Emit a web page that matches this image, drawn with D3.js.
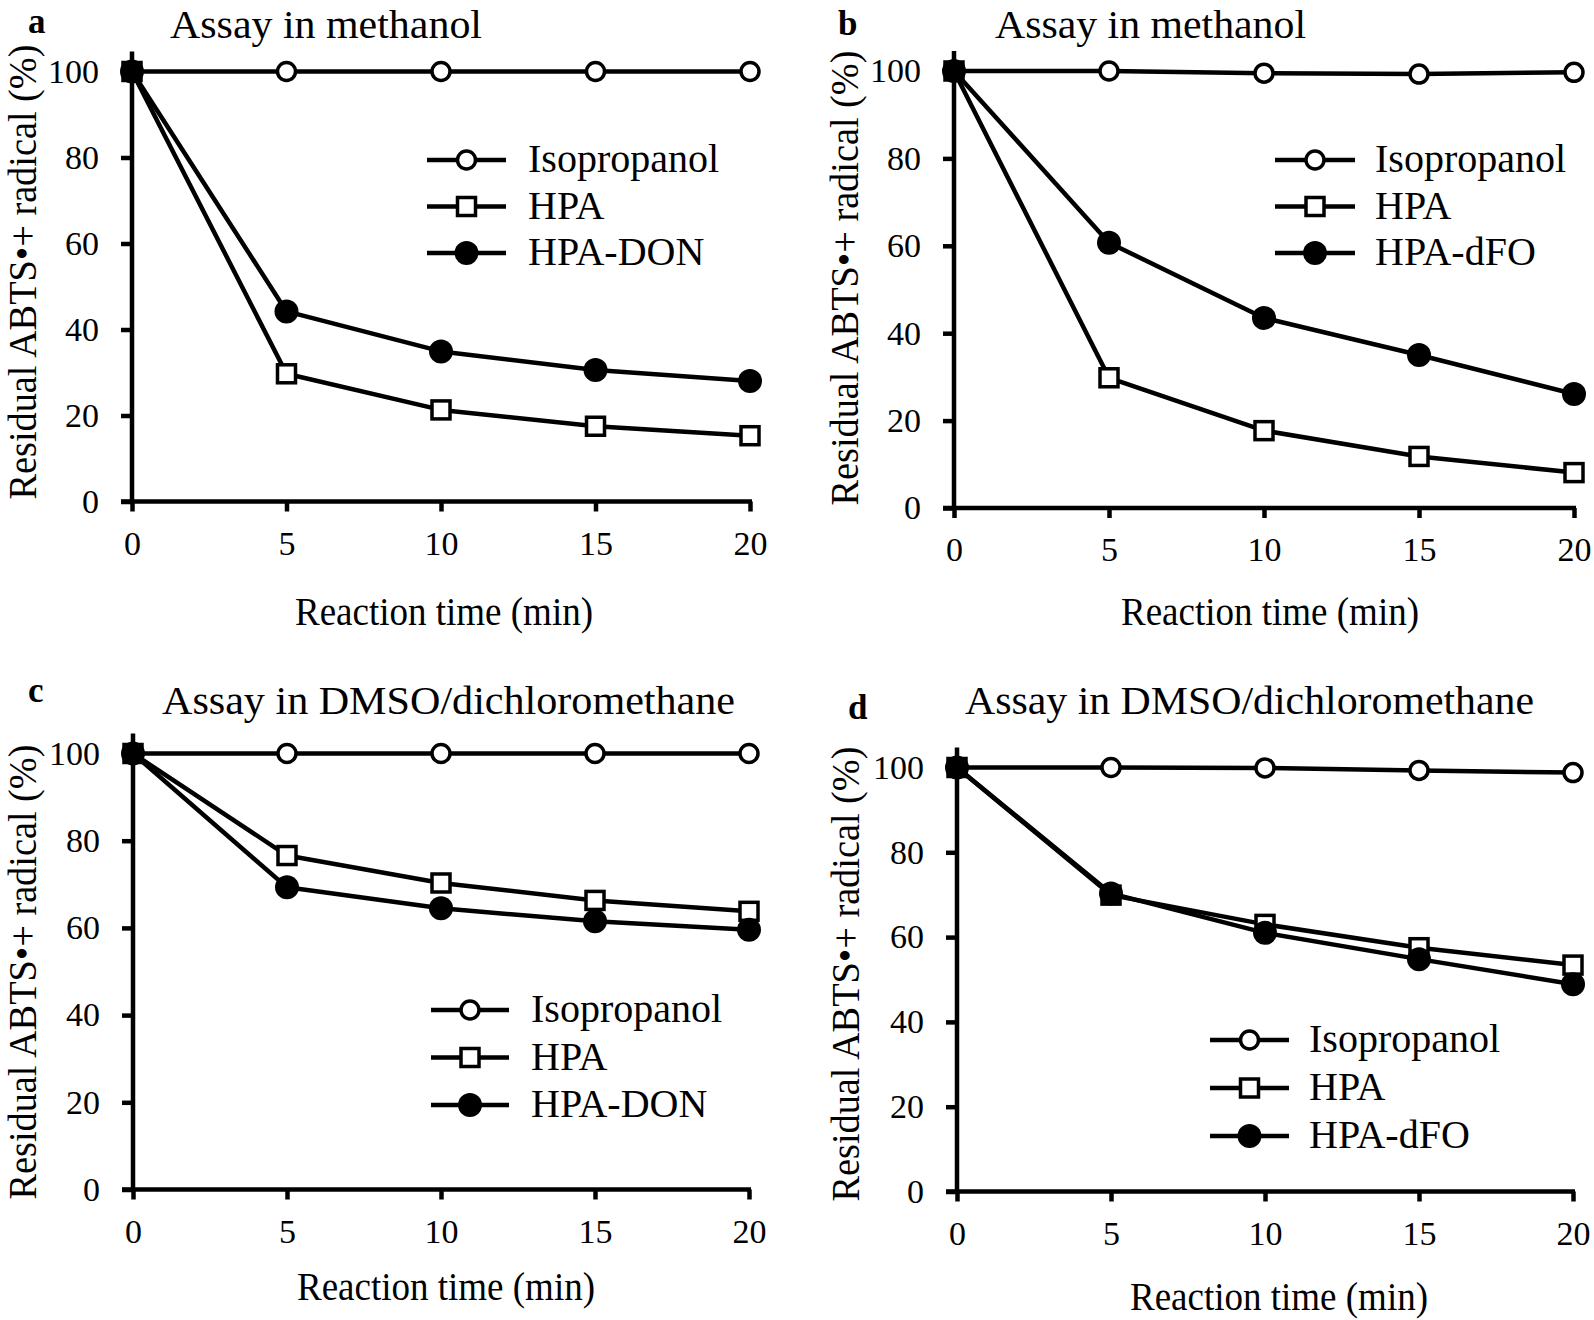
<!DOCTYPE html>
<html><head><meta charset="utf-8">
<script src="https://cdn.jsdelivr.net/npm/d3@7"></script>
<style>
body{margin:0;background:#fff}
svg{display:block}
text{font-family:"Liberation Serif","Times New Roman",serif;fill:#000}
</style>
</head><body>
<svg id="chart" width="1594" height="1320"></svg>
<script>
// ---------- data ----------
const times = [0, 5, 10, 15, 20];
const xTickValues = [0, 5, 10, 15, 20];
const yTickValues = [0, 20, 40, 60, 80, 100];
const panelLetters = ["a", "b", "c", "d"];
const panelTitles = ["Assay in methanol", "Assay in methanol", "Assay in DMSO/dichloromethane", "Assay in DMSO/dichloromethane"];
const xAxisTitle = "Reaction time (min)";
const yAxisTitle = "Residual ABTS\u2022+ radical (%)";
const namesDON = ["Isopropanol", "HPA", "HPA-DON"];
const namesDFO = ["Isopropanol", "HPA", "HPA-dFO"];

const isoA = [100, 100, 100, 100, 100];
const hpaA = [100, 29.7, 21.3, 17.5, 15.3];
const donA = [100, 44.2, 34.9, 30.6, 28.0];

const isoB = [100, 100, 99.5, 99.3, 99.7];
const hpaB = [100, 29.8, 17.7, 11.8, 8.1];
const dfoB = [100, 60.7, 43.5, 35.0, 26.1];

const isoC = [100, 100, 100, 100, 100];
const hpaC = [100, 76.6, 70.3, 66.3, 63.8];
const donC = [100, 69.3, 64.5, 61.5, 59.6];

const isoD = [100, 100, 99.9, 99.3, 98.8];
const hpaD = [100, 69.9, 63.0, 57.5, 53.4];
const dfoD = [100, 70.3, 61.0, 54.8, 48.9];

// ---------- layout ----------
const panels = [
  {letter: panelLetters[0], title: panelTitles[0], names: namesDON, series: [isoA, hpaA, donA],
   x0: 132, x1: 750, yT: 71.5, yB: 501.5,
   let: [28, 33], tit: [170, 38, 312], leg: {l0: 427, l1: 506, tx: 528, rows: [160, 206.5, 253]},
   xl: [444, 625], yl: [36, 272]},
  {letter: panelLetters[1], title: panelTitles[1], names: namesDFO, series: [isoB, hpaB, dfoB],
   x0: 954, x1: 1574, yT: 71, yB: 508,
   let: [838, 35], tit: [995, 38, 311], leg: {l0: 1275, l1: 1355, tx: 1375, rows: [160, 206.5, 253]},
   xl: [1270, 625], yl: [858, 278]},
  {letter: panelLetters[2], title: panelTitles[2], names: namesDON, series: [isoC, hpaC, donC],
   x0: 133, x1: 749, yT: 753.5, yB: 1189.5,
   let: [28, 702], tit: [162, 714, 573], leg: {l0: 431, l1: 509, tx: 531, rows: [1010, 1057.5, 1105]},
   xl: [446, 1300], yl: [36, 972]},
  {letter: panelLetters[3], title: panelTitles[3], names: namesDFO, series: [isoD, hpaD, dfoD],
   x0: 957, x1: 1573, yT: 767.5, yB: 1191.5,
   let: [848, 719], tit: [965, 714, 569], leg: {l0: 1210, l1: 1289, tx: 1309, rows: [1040, 1088, 1136]},
   xl: [1279, 1310], yl: [859, 974]}
];

const svg = d3.select("#chart");
const AX_W = 4.5, LINE_W = 4.5;
const FONT = '"Liberation Serif","Times New Roman",serif';

function drawMarker(g, type, cx, cy) {
  if (type === 0) {
    g.append("circle").attr("cx", cx).attr("cy", cy).attr("r", 9)
      .attr("fill", "#fff").attr("stroke", "#000").attr("stroke-width", 3.5);
  } else if (type === 1) {
    g.append("rect").attr("x", cx - 9).attr("y", cy - 9).attr("width", 18).attr("height", 18)
      .attr("fill", "#fff").attr("stroke", "#000").attr("stroke-width", 3.5);
  } else {
    g.append("circle").attr("cx", cx).attr("cy", cy).attr("r", 12).attr("fill", "#000");
  }
}

panels.forEach(p => {
  const g = svg.append("g");
  const x = d3.scaleLinear().domain([0, 20]).range([p.x0, p.x1]);
  const y = d3.scaleLinear().domain([0, 100]).range([p.yB, p.yT]);

  // y axis
  const yAxis = d3.axisLeft(y).tickValues(yTickValues).tickSize(11).tickPadding(22).tickSizeOuter(0);
  const ya = g.append("g").attr("transform", `translate(${p.x0},0)`).call(yAxis);
  ya.select(".domain").remove();
  ya.selectAll(".tick line").attr("stroke", "#000").attr("stroke-width", AX_W);
  ya.selectAll(".tick text").attr("font-size", 34).attr("font-family", FONT).attr("fill", "#000");

  // x axis
  const xAxis = d3.axisBottom(x).tickValues(xTickValues).tickSize(10).tickPadding(19).tickSizeOuter(0);
  const xa = g.append("g").attr("transform", `translate(0,${p.yB})`).call(xAxis);
  xa.select(".domain").remove();
  xa.selectAll(".tick line").attr("stroke", "#000").attr("stroke-width", AX_W);
  xa.selectAll(".tick text").attr("font-size", 34).attr("font-family", FONT).attr("fill", "#000");

  // axis lines
  g.append("line").attr("x1", x(0)).attr("x2", x(0)).attr("y1", y(0)).attr("y2", y(100) - 20)
    .attr("stroke", "#000").attr("stroke-width", AX_W);
  g.append("line").attr("x1", x(0) - 11).attr("x2", x(20) + 2).attr("y1", y(0)).attr("y2", y(0))
    .attr("stroke", "#000").attr("stroke-width", AX_W);

  // series lines
  const line = d3.line().x((d, i) => x(times[i])).y(d => y(d));
  p.series.forEach(s => {
    g.append("path").attr("d", line(s)).attr("fill", "none").attr("stroke", "#000")
      .attr("stroke-width", LINE_W).attr("stroke-linejoin", "round");
  });
  // markers
  p.series.forEach((s, k) => {
    s.forEach((v, i) => drawMarker(g, k, x(times[i]), y(v)));
  });

  // legend
  p.names.forEach((n, k) => {
    const cy = p.leg.rows[k];
    g.append("line").attr("x1", p.leg.l0).attr("x2", p.leg.l1).attr("y1", cy).attr("y2", cy)
      .attr("stroke", "#000").attr("stroke-width", LINE_W);
    drawMarker(g, k, (p.leg.l0 + p.leg.l1) / 2, cy);
    g.append("text").attr("x", p.leg.tx).attr("y", cy + 12).attr("font-size", 40).text(n);
  });

  // texts
  g.append("text").attr("x", p.let[0]).attr("y", p.let[1]).attr("font-size", 35)
    .attr("font-weight", "bold").text(p.letter);
  g.append("text").attr("x", p.tit[0]).attr("y", p.tit[1]).attr("font-size", 40)
    .attr("textLength", p.tit[2]).attr("lengthAdjust", "spacingAndGlyphs").text(p.title);
  g.append("text").attr("x", p.xl[0]).attr("y", p.xl[1]).attr("font-size", 40)
    .attr("text-anchor", "middle").attr("textLength", 298).attr("lengthAdjust", "spacingAndGlyphs").text(xAxisTitle);
  g.append("text").attr("transform", `translate(${p.yl[0]},${p.yl[1]}) rotate(-90)`)
    .attr("font-size", 41).attr("text-anchor", "middle")
    .attr("textLength", 455).attr("lengthAdjust", "spacingAndGlyphs").text(yAxisTitle);
});
</script>
</body></html>
